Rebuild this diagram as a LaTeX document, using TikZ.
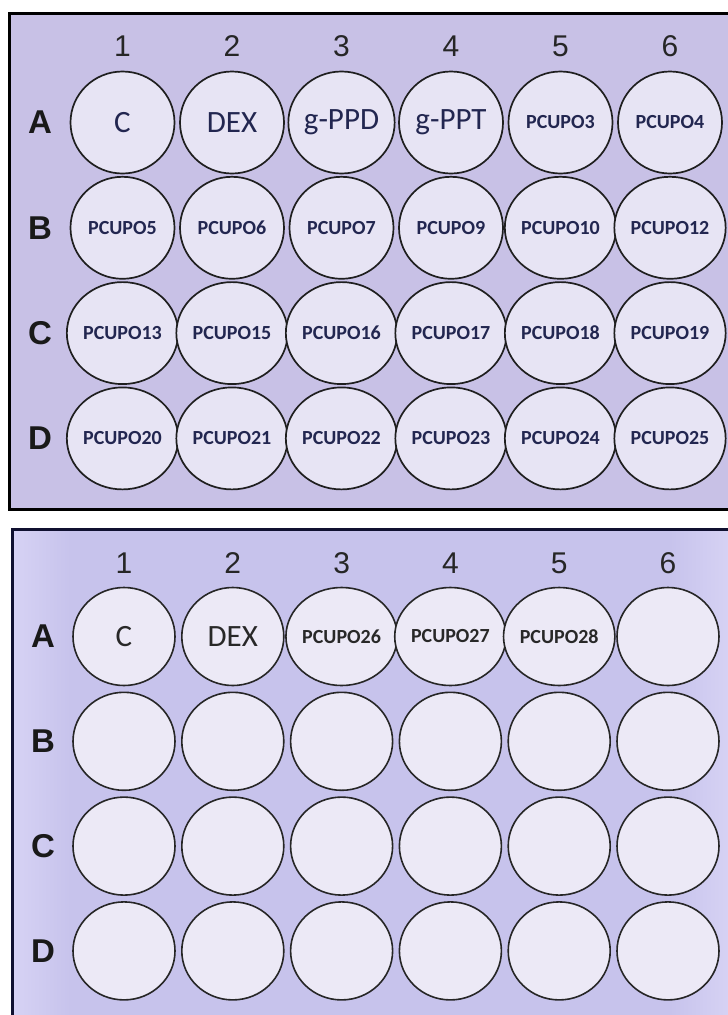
\documentclass[tikz,border=0pt]{standalone}
\usepackage{fontspec}
\setmainfont{Liberation Sans}
\newfontfamily\calib{Carlito}
\usetikzlibrary{shapes.geometric}
\definecolor{plateA}{RGB}{200,193,230}
\definecolor{wellA}{RGB}{231,228,244}
\definecolor{plateB}{RGB}{199,195,236}
\definecolor{plateBlight}{RGB}{214,210,244}
\definecolor{wellB}{RGB}{236,233,246}
\definecolor{inkA}{RGB}{34,38,80}
\definecolor{inkB}{RGB}{40,40,40}
\definecolor{frameB}{RGB}{16,16,48}
\begin{document}
\begin{tikzpicture}[x=1pt,y=-1pt,
  frameT/.style={draw=black, line width=3pt, fill=plateA},
  frameBot/.style={draw=frameB, line width=3pt, fill=plateB},
  wellT/.style={ellipse, draw=black!88, line width=1.7pt, fill=wellA,
    minimum width=104pt, minimum height=102pt, inner sep=0pt, text=inkA},
  wellBot/.style={ellipse, draw=black!85, line width=1.6pt, fill=wellB,
    minimum width=102pt, minimum height=98pt, inner sep=0pt, text=inkB},
  bigtxt/.style={font=\calib\fontsize{31}{34}\selectfont},
  smalltxt/.style={font=\calib\bfseries\fontsize{20}{22}\selectfont},
  colnum/.style={font=\fontsize{30}{32}\selectfont, text=black!85, inner sep=0pt},
  rowlet/.style={font=\bfseries\fontsize{33}{35}\selectfont, text=black!90, inner sep=0pt}
]
\useasboundingbox (0,0) rectangle (728,1015);
\clip (0,0) rectangle (728,1015);

% ---------- top plate ----------
\draw[frameT] (9,13) rectangle (745,509);
\foreach \c in {1,...,6}
  \node[colnum] (tn\c) at ({122.5+109.5*(\c-1)},46) {\c};
\foreach \r/\L in {1/A,2/B,3/C,4/D}
  \node[rowlet] (tl\L) at (40,{122.5+105.3*(\r-1)}) {\L};

\foreach \c/\t/\s in {1/C/bigtxt,2/DEX/bigtxt,3/g-PPD/bigtxt,4/g-PPT/bigtxt,5/PCUPO3/smalltxt,6/PCUPO4/smalltxt}
  \node[wellT,\s] (tA\c) at ({122.5+109.5*(\c-1)},122.5) {\t};
\foreach \c/\t in {1/PCUPO5,2/PCUPO6,3/PCUPO7,4/PCUPO9,5/PCUPO10,6/PCUPO12}
  \node[wellT,smalltxt] (tB\c) at ({122.5+109.5*(\c-1)},227.8) {\t};
\foreach \c/\t in {1/PCUPO13,2/PCUPO15,3/PCUPO16,4/PCUPO17,5/PCUPO18,6/PCUPO19}
  \node[wellT,smalltxt] (tC\c) at ({122.5+109.5*(\c-1)},333.1) {\t};
\foreach \c/\t in {1/PCUPO20,2/PCUPO21,3/PCUPO22,4/PCUPO23,5/PCUPO24,6/PCUPO25}
  \node[wellT,smalltxt] (tD\c) at ({122.5+109.5*(\c-1)},438.4) {\t};

% ---------- bottom plate ----------
\draw[frameBot] (12,529) rectangle (750,1040);
\shade[left color=plateB, right color=plateBlight] (670,531) rectangle (728,1015);
\shade[left color=plateBlight, right color=plateB] (14,531) rectangle (70,1015);
\foreach \c in {1,...,6}
  \node[colnum] (bn\c) at ({124+108.8*(\c-1)},563) {\c};
\foreach \r/\L in {1/A,2/B,3/C,4/D}
  \node[rowlet] (bl\L) at (43,{636.5+104.8*(\r-1)}) {\L};

\foreach \c/\t/\s in {1/C/bigtxt,2/DEX/bigtxt,3/PCUPO26/smalltxt,4/PCUPO27/smalltxt,5/PCUPO28/smalltxt,6/{}/smalltxt}
  \node[wellBot,\s] (bA\c) at ({124+108.8*(\c-1)},636.5) {\t};
\foreach \r/\L in {2/B,3/C,4/D}
  \foreach \c in {1,...,6}
    \node[wellBot] (b\L\c) at ({124+108.8*(\c-1)},{636.5+104.8*(\r-1)}) {};
\end{tikzpicture}
\end{document}
